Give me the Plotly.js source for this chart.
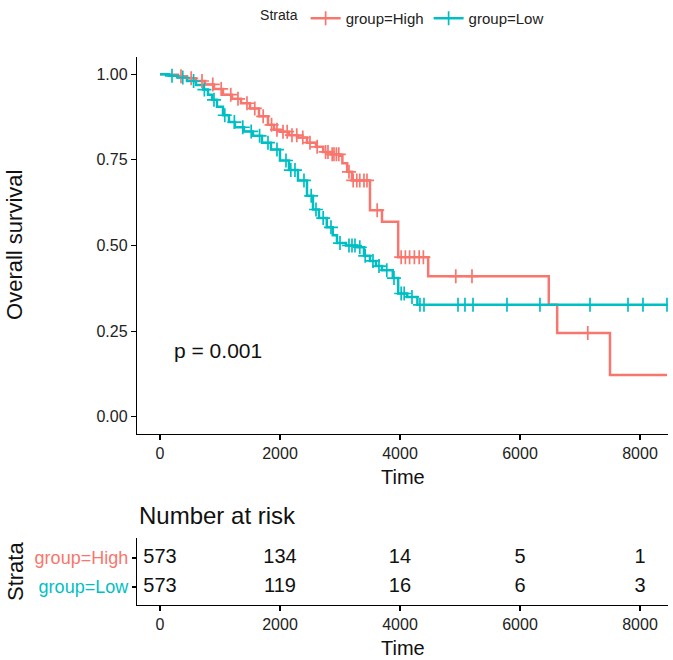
<!DOCTYPE html>
<html>
<head>
<meta charset="utf-8">
<script src="https://cdn.plot.ly/plotly-3.0.1.min.js"></script>
<style>html,body{margin:0;padding:0;background:#fff;}#chart{width:673px;height:660px;}</style>
</head>
<body>
<div id="chart"></div>
<script>
// ---- Data ----
const hiTime = [0, 150, 300, 450, 600, 750, 900, 1050, 1200, 1350, 1500, 1650, 1800, 1900, 2000, 2150, 2300, 2450, 2600, 2720, 2850, 3000, 3040, 3120, 3200, 3500, 3700, 3970, 4470, 6480, 6620, 7500, 8450];
const hiSurv = [1.0, 0.998, 0.994, 0.988, 0.98, 0.97, 0.957, 0.94, 0.928, 0.915, 0.9, 0.877, 0.852, 0.838, 0.832, 0.822, 0.815, 0.80, 0.788, 0.773, 0.766, 0.762, 0.74, 0.715, 0.69, 0.603, 0.569, 0.466, 0.41, 0.327, 0.245, 0.122, 0.122];
const loTime = [0, 150, 300, 450, 600, 720, 800, 870, 950, 1050, 1150, 1250, 1400, 1550, 1700, 1850, 2000, 2150, 2300, 2450, 2550, 2650, 2780, 2880, 2950, 3100, 3280, 3400, 3500, 3600, 3700, 3880, 3970, 4120, 4290, 8450];
const loSurv = [1.0, 0.995, 0.99, 0.98, 0.968, 0.955, 0.94, 0.925, 0.905, 0.88, 0.86, 0.845, 0.833, 0.82, 0.8, 0.78, 0.748, 0.72, 0.69, 0.645, 0.605, 0.58, 0.553, 0.53, 0.507, 0.5, 0.495, 0.47, 0.455, 0.44, 0.428, 0.405, 0.36, 0.35, 0.327, 0.327];
const hiCensor = [350, 520, 700, 880, 1020, 1180, 1300, 1450, 1580, 1720, 1860, 1950, 2050, 2120, 2200, 2280, 2380, 2500, 2620, 2760, 2800, 2870, 2900, 2940, 2980, 3150, 3220, 3280, 3330, 3400, 3450, 3620, 4020, 4090, 4160, 4240, 4320, 4390, 4930, 5200, 7130];
const loCensor = [200, 380, 560, 740, 900, 1080, 1240, 1380, 1520, 1660, 1800, 1950, 2100, 2180, 2250, 2400, 2520, 2600, 2720, 2850, 3000, 3150, 3200, 3250, 3330, 3420, 3550, 3650, 3780, 3900, 4020, 4070, 4200, 4333, 4400, 4967, 5083, 5217, 5783, 6333, 7167, 7800, 8050, 8450];
const strata = ["group=High", "group=Low"];
const riskTimes = [0, 2000, 4000, 6000, 8000];
const riskHigh = [573, 134, 14, 5, 1];
const riskLow = [573, 119, 16, 6, 3];
const pText = "p = 0.001";

const RED = "#F8766D", TEAL = "#00BFC4";
const FONT = "Liberation Sans, Arial, sans-serif";

function stepAt(ts, ss, t) {
  let v = ss[0];
  for (let i = 0; i < ts.length; i++) { if (ts[i] <= t) v = ss[i]; else break; }
  return v;
}

const censMarker = (c) => ({symbol: "cross-thin", size: 10, color: c, line: {color: c, width: 1.7}});

const traces = [
  {x: hiTime, y: hiSurv, type: "scatter", mode: "lines", line: {color: RED, width: 2.5, shape: "hv"}, showlegend: false, xaxis: "x", yaxis: "y"},
  {x: loTime, y: loSurv, type: "scatter", mode: "lines", line: {color: TEAL, width: 2.5, shape: "hv"}, showlegend: false, xaxis: "x", yaxis: "y"},
  {x: hiCensor, y: hiCensor.map(t => stepAt(hiTime, hiSurv, t)), type: "scatter", mode: "markers", marker: censMarker(RED), showlegend: false, xaxis: "x", yaxis: "y"},
  {x: loCensor, y: loCensor.map(t => stepAt(loTime, loSurv, t)), type: "scatter", mode: "markers", marker: censMarker(TEAL), showlegend: false, xaxis: "x", yaxis: "y"},
  {x: [null], y: [null], type: "scatter", mode: "lines+markers", name: strata[0], line: {color: RED, width: 2.5}, marker: censMarker(RED), xaxis: "x", yaxis: "y"},
  {x: [null], y: [null], type: "scatter", mode: "lines+markers", name: strata[1], line: {color: TEAL, width: 2.5}, marker: censMarker(TEAL), xaxis: "x", yaxis: "y"},
  {x: riskTimes, y: riskTimes.map(() => 2), text: riskHigh.map(String), type: "scatter", mode: "text", textfont: {size: 20, color: "#111", family: FONT}, showlegend: false, xaxis: "x2", yaxis: "y2"},
  {x: riskTimes, y: riskTimes.map(() => 1), text: riskLow.map(String), type: "scatter", mode: "text", textfont: {size: 20, color: "#111", family: FONT}, showlegend: false, xaxis: "x2", yaxis: "y2"}
];

const axBase = {showline: true, linecolor: "#000", linewidth: 1.2, ticks: "outside", ticklen: 5, tickwidth: 1.1, tickcolor: "#000", showgrid: false, zeroline: false, tickfont: {size: 16, color: "#222", family: FONT}};

const layout = {
  width: 673, height: 660,
  margin: {l: 137, r: 5, t: 57, b: 55},
  paper_bgcolor: "#fff", plot_bgcolor: "#fff",
  font: {family: FONT, color: "#111"},
  xaxis: Object.assign({}, axBase, {domain: [0, 1], range: [-383, 8467], tickvals: [0, 2000, 4000, 6000, 8000], anchor: "y"}),
  yaxis: Object.assign({}, axBase, {domain: [0.312, 1], range: [-0.05, 1.05], tickvals: [0, 0.25, 0.5, 0.75, 1], ticktext: ["0.00", "0.25", "0.50", "0.75", "1.00"], anchor: "x"}),
  xaxis2: Object.assign({}, axBase, {domain: [0, 1], range: [-383, 8467], tickvals: [0, 2000, 4000, 6000, 8000], anchor: "y2"}),
  yaxis2: Object.assign({}, axBase, {domain: [0, 0.1223], range: [0.379, 2.69], tickvals: [1, 2], ticklen: 4,
    ticktext: ['<span style="color:' + TEAL + '">' + strata[1] + '</span>', '<span style="color:' + RED + '">' + strata[0] + '</span>'],
    tickfont: {size: 18, family: FONT}, anchor: "x2"}),
  legend: {orientation: "h", xref: "paper", yref: "container", x: 0.502, xanchor: "center", y: 0.997, yanchor: "top", font: {size: 15, family: FONT, color: "#222"},
    title: {text: "Strata", side: "left", font: {size: 14, family: FONT, color: "#222"}}, itemwidth: 30, bgcolor: "rgba(0,0,0,0)"},
  annotations: [
    {text: "Overall survival", xref: "paper", yref: "paper", x: -0.2298, y: 0.657, textangle: -90, showarrow: false, font: {size: 22, family: FONT, color: "#111"}, xanchor: "center", yanchor: "middle"},
    {text: "Time", xref: "paper", yref: "paper", x: 0.5, y: 0.2336, showarrow: false, font: {size: 20, family: FONT, color: "#111"}, xanchor: "center", yanchor: "middle"},
    {text: pText, xref: "x", yref: "y", x: 200, y: 0.195, showarrow: false, font: {size: 21, family: FONT, color: "#111"}, xanchor: "left", yanchor: "middle"},
    {text: "Number at risk", xref: "paper", yref: "paper", x: 0, y: 0.164, showarrow: false, font: {size: 24, family: FONT, color: "#111"}, xanchor: "left", yanchor: "middle"},
    {text: "Strata", xref: "paper", yref: "paper", x: -0.2298, y: 0.062, textangle: -90, showarrow: false, font: {size: 22, family: FONT, color: "#111"}, xanchor: "center", yanchor: "middle"},
    {text: "Time", xref: "paper", yref: "paper", x: 0.5, y: -0.0785, showarrow: false, font: {size: 20, family: FONT, color: "#111"}, xanchor: "center", yanchor: "middle"}
  ]
};

Plotly.newPlot("chart", traces, layout, {displayModeBar: false, staticPlot: true});
</script>
</body>
</html>
